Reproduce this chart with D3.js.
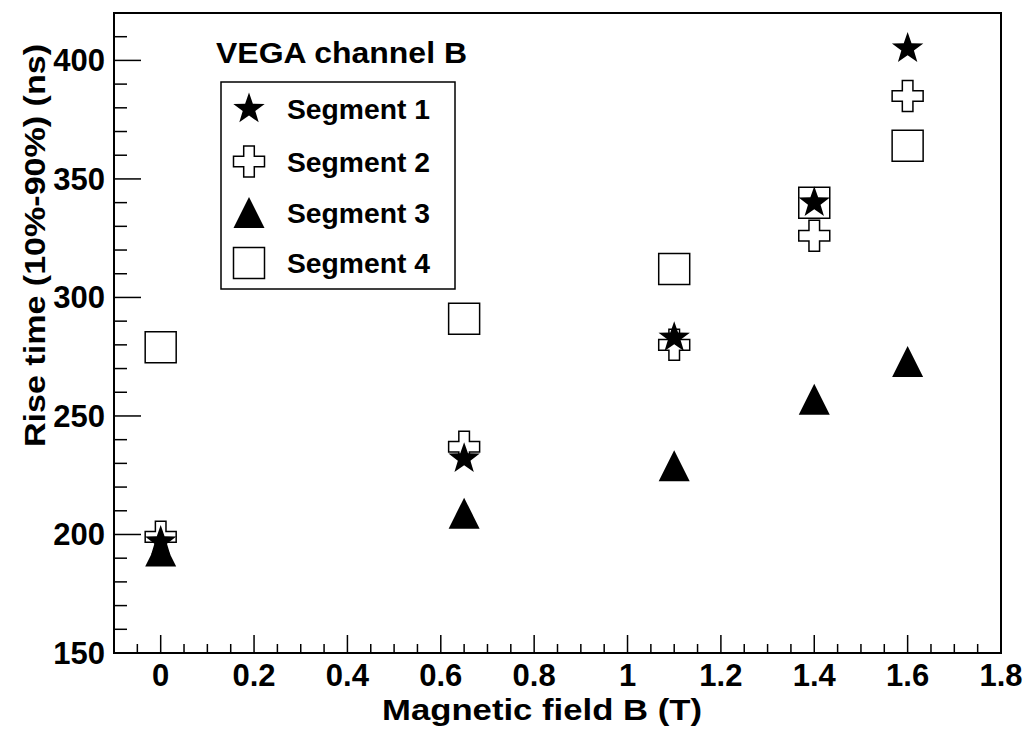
<!DOCTYPE html>
<html><head><meta charset="utf-8">
<script src="https://cdn.jsdelivr.net/npm/d3@7"></script>
<style>body{margin:0;background:#fff;} svg{display:block;} text{font-family:"Liberation Sans",Arial,sans-serif;font-weight:bold;fill:#000;}</style>
</head><body>
<svg id="c" width="1032" height="730"></svg>
<script>
const fieldB = [0, 0.65, 1.1, 1.4, 1.6];
const segment1 = [197, 232, 283, 340, 405];
const segment2 = [199, 237, 280, 326, 385];
const segment3 = [193, 209, 229, 257, 273];
const segment4 = [279, 291, 312, 340, 364];
const seriesNames = ["Segment 1", "Segment 2", "Segment 3", "Segment 4"];
const xTicks = [0, 0.2, 0.4, 0.6, 0.8, 1, 1.2, 1.4, 1.6, 1.8];
const yTicks = [150, 200, 250, 300, 350, 400];
const chartTitle = "VEGA channel B";
const xTitle = "Magnetic field B (T)";
const yTitle = "Rise time (10%-90%) (ns)";

const svg = d3.select("#c");
const L = 114, R = 1001, T = 13, B = 653;
const x = d3.scaleLinear().domain([-0.1, 1.8]).range([L, R]);
const y = d3.scaleLinear().domain([150, 420]).range([B, T]);

// frame
svg.append("rect").attr("x", L).attr("y", T).attr("width", R - L).attr("height", B - T)
  .attr("fill", "none").attr("stroke", "#000").attr("stroke-width", 2);

// x ticks
const xMinor = d3.range(-0.05, 1.8001, 0.05).filter(v => Math.abs(Math.round(v / 0.2) * 0.2 - v) > 1e-6);
const gx = svg.append("g");
gx.selectAll("line.maj").data(xTicks).join("line")
  .attr("x1", d => x(d)).attr("x2", d => x(d)).attr("y1", B).attr("y2", B - 18)
  .attr("stroke", "#000").attr("stroke-width", 1.5);
gx.selectAll("line.min").data(xMinor).join("line")
  .attr("x1", d => x(d)).attr("x2", d => x(d)).attr("y1", B).attr("y2", B - 9)
  .attr("stroke", "#000").attr("stroke-width", 1.5);
gx.selectAll("text").data(xTicks).join("text")
  .attr("x", d => x(d)).attr("y", 686).attr("text-anchor", "middle")
  .attr("font-size", 31).text(d => d3.format("~g")(d));

// y ticks
const yMinor = d3.range(150, 421, 10).filter(v => v % 50 !== 0);
const gy = svg.append("g");
gy.selectAll("line.maj").data(yTicks).join("line")
  .attr("x1", L).attr("x2", L + 27).attr("y1", d => y(d)).attr("y2", d => y(d))
  .attr("stroke", "#000").attr("stroke-width", 1.5);
gy.selectAll("line.min").data(yMinor).join("line")
  .attr("x1", L).attr("x2", L + 13).attr("y1", d => y(d)).attr("y2", d => y(d))
  .attr("stroke", "#000").attr("stroke-width", 1.5);
gy.selectAll("text").data(yTicks).join("text")
  .attr("x", 105).attr("y", d => y(d) + 11).attr("text-anchor", "end")
  .attr("font-size", 31).text(d => d);

// axis titles
svg.append("text").attr("x", 382).attr("y", 720)
  .attr("font-size", 30).attr("textLength", 320).attr("lengthAdjust", "spacingAndGlyphs").text(xTitle);
svg.append("text").attr("transform", "translate(45,447) rotate(-90)")
  .attr("font-size", 30).attr("textLength", 403).attr("lengthAdjust", "spacingAndGlyphs").text(yTitle);

// marker paths
function starPath(r) {
  const pts = [];
  for (let i = 0; i < 10; i++) {
    const rr = i % 2 === 0 ? r : r * 0.4;
    const a = -Math.PI / 2 + i * Math.PI / 5;
    pts.push([rr * Math.cos(a), rr * Math.sin(a)]);
  }
  return "M" + pts.map(p => p[0].toFixed(2) + "," + p[1].toFixed(2)).join("L") + "Z";
}
function crossPath(h, w) {
  return `M${-w},${-h}L${w},${-h}L${w},${-w}L${h},${-w}L${h},${w}L${w},${w}L${w},${h}L${-w},${h}L${-w},${w}L${-h},${w}L${-h},${-w}L${-w},${-w}Z`;
}
function triPath(h) {
  return `M0,${-h}L${h},${h}L${-h},${h}Z`;
}
function sqPath(h) {
  return `M${-h},${-h}L${h},${-h}L${h},${h}L${-h},${h}Z`;
}
const markers = [
  { d: starPath(16.5), fill: "#000", stroke: "none", sw: 0 },
  { d: crossPath(15.5, 5.3), fill: "none", stroke: "#000", sw: 1.5 },
  { d: triPath(15.5), fill: "#000", stroke: "none", sw: 0 },
  { d: sqPath(15.5), fill: "none", stroke: "#000", sw: 1.5 }
];
const allSeries = [segment1, segment2, segment3, segment4];
const drawOrder = [2, 3, 1, 0];
drawOrder.forEach(si => {
  const m = markers[si];
  svg.append("g").selectAll("path").data(fieldB.map((b, i) => [b, allSeries[si][i]])).join("path")
    .attr("transform", d => `translate(${x(d[0])},${y(d[1])})`)
    .attr("d", m.d).attr("fill", m.fill).attr("stroke", m.stroke).attr("stroke-width", m.sw);
});

// title & legend
svg.append("text").attr("x", 216).attr("y", 63).attr("font-size", 29)
  .attr("textLength", 251).attr("lengthAdjust", "spacingAndGlyphs").text(chartTitle);
svg.append("rect").attr("x", 221).attr("y", 82).attr("width", 234).attr("height", 207)
  .attr("fill", "#fff").attr("stroke", "#000").attr("stroke-width", 1.5);
const legY = [109, 161.5, 212.5, 263];
seriesNames.forEach((n, i) => {
  const m = markers[i];
  svg.append("path").attr("transform", `translate(249,${legY[i]})`).attr("d", m.d)
    .attr("fill", m.fill === "none" ? "#fff" : m.fill).attr("stroke", m.stroke).attr("stroke-width", m.sw);
  svg.append("text").attr("x", 287).attr("y", legY[i] + 10).attr("font-size", 27)
    .attr("textLength", 143).attr("lengthAdjust", "spacingAndGlyphs").text(n);
});
</script>
</body></html>
